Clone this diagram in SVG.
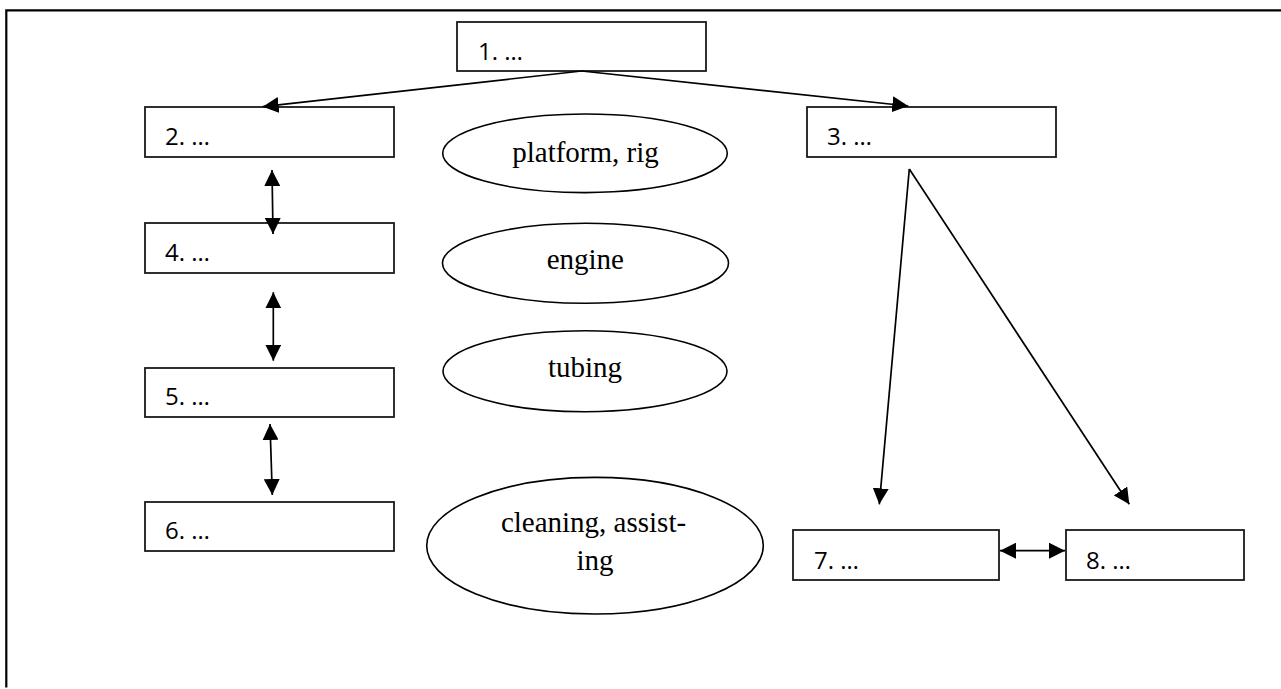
<svg xmlns="http://www.w3.org/2000/svg" width="1281" height="689" viewBox="0 0 1281 689">
  <style>
    .box { fill: #fff; stroke: #1a1a1a; stroke-width: 1.8; }
    .oval { fill: #fff; stroke: #000; stroke-width: 1.6; }
    .lbl { font-family: "Open Sans", "Liberation Sans", Arial, sans-serif; font-size: 24px; fill: #000; }
    .term { font-family: "Liberation Serif", "Times New Roman", serif; font-size: 29px; fill: #000; text-anchor: middle; }
    .link { fill: none; stroke: #000; stroke-width: 1.7; }
    .frame { fill: none; stroke: #000; stroke-width: 2.2; }
  </style>
  <defs>
    <marker id="head" markerUnits="userSpaceOnUse" markerWidth="16" markerHeight="16" viewBox="0 0 15 15" refX="15" refY="7.5" orient="auto-start-reverse">
      <path d="M0,0 L15,7.5 L0,15 Z" fill="#000"/>
    </marker>
  </defs>

  <rect width="1281" height="689" fill="#fff"/>
  <!-- page frame -->
  <path class="frame" d="M6.3,687.5 V10.3 H1281"/>

  <!-- rectangular nodes -->
  <g id="node-1"><rect class="box" x="457" y="22" width="249" height="49"/><text class="lbl" x="478" y="60">1. …</text></g>
  <g id="node-2"><rect class="box" x="145" y="107" width="249" height="50"/><text class="lbl" x="165" y="145">2. …</text></g>
  <g id="node-3"><rect class="box" x="807" y="107" width="249" height="50"/><text class="lbl" x="827" y="145">3. …</text></g>
  <g id="node-4"><rect class="box" x="145" y="223" width="249" height="50"/><text class="lbl" x="165" y="261">4. …</text></g>
  <g id="node-5"><rect class="box" x="145" y="368" width="249" height="49"/><text class="lbl" x="165" y="405">5. …</text></g>
  <g id="node-6"><rect class="box" x="145" y="502" width="249" height="49"/><text class="lbl" x="165" y="539">6. …</text></g>
  <g id="node-7"><rect class="box" x="793" y="530" width="206" height="50"/><text class="lbl" x="814" y="569">7. …</text></g>
  <g id="node-8"><rect class="box" x="1066" y="530" width="178" height="50"/><text class="lbl" x="1086" y="569">8. …</text></g>

  <!-- oval term nodes -->
  <g id="term-platform"><ellipse class="oval" cx="585" cy="153.3" rx="142.3" ry="39.3"/><text class="term" x="585.5" y="162">platform, rig</text></g>
  <g id="term-engine"><ellipse class="oval" cx="585.5" cy="263.3" rx="143" ry="40"/><text class="term" x="585.3" y="269">engine</text></g>
  <g id="term-tubing"><ellipse class="oval" cx="585" cy="371.2" rx="142" ry="40.5"/><text class="term" x="585" y="377">tubing</text></g>
  <g id="term-cleaning"><ellipse class="oval" cx="595" cy="545.7" rx="168.3" ry="68.3"/><text class="term" x="593.5" y="532">cleaning, assist-</text><text class="term" x="595" y="570">ing</text></g>

  <!-- connectors -->
  <g id="connectors">
    <line class="link" x1="581.7" y1="71" x2="262.7" y2="106.7" marker-end="url(#head)"/>
    <line class="link" x1="581.7" y1="71" x2="908.3" y2="106" marker-end="url(#head)"/>
    <line class="link" x1="272" y1="170" x2="273" y2="234" marker-start="url(#head)" marker-end="url(#head)"/>
    <line class="link" x1="273.3" y1="292.3" x2="273.3" y2="360.7" marker-start="url(#head)" marker-end="url(#head)"/>
    <line class="link" x1="270" y1="424" x2="272.3" y2="495" marker-start="url(#head)" marker-end="url(#head)"/>
    <line class="link" x1="909.3" y1="169" x2="879.3" y2="504.3" marker-end="url(#head)"/>
    <line class="link" x1="909.3" y1="169" x2="1129.3" y2="504.3" marker-end="url(#head)"/>
    <line class="link" x1="1000" y1="550.7" x2="1065" y2="550.7" marker-start="url(#head)" marker-end="url(#head)"/>
  </g>
</svg>
